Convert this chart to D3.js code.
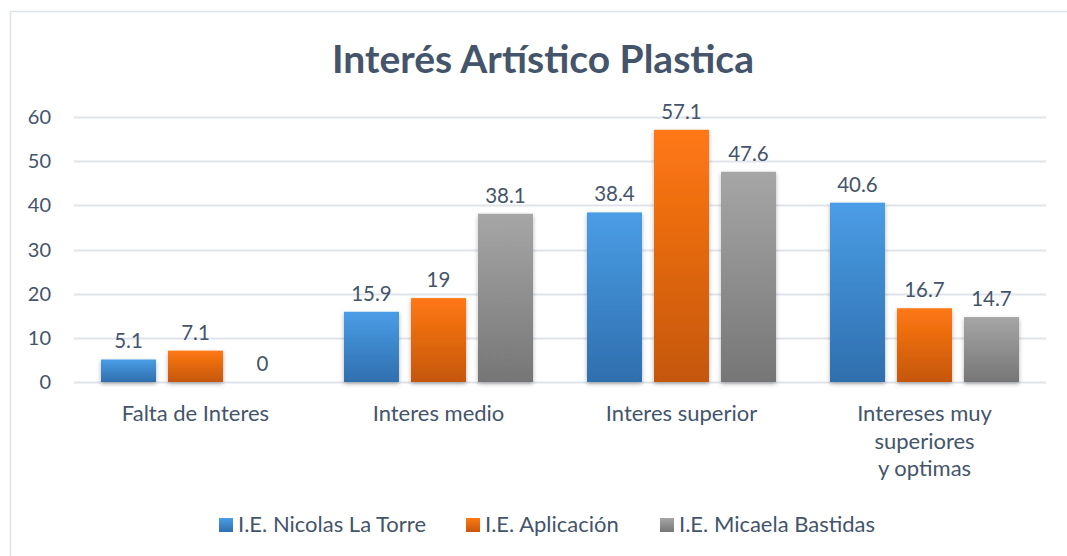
<!DOCTYPE html>
<html>
<head>
<meta charset="utf-8">
<script src="https://cdn.jsdelivr.net/npm/d3@7"></script>
<style>
  body { margin: 0; background: #fff; }
  svg text { font-family: Lato, "Open Sans", sans-serif; }
</style>
</head>
<body>
<div id="chart"></div>
<script>
var width = 1067;
var height = 556;

// data
var categories = ["Falta de Interes", "Interes medio", "Interes superior", "Intereses muy superiores y optimas"];
var catLines = [["Falta de Interes"], ["Interes medio"], ["Interes superior"], ["Intereses muy", "superiores", "y optimas"]];
var series = ["I.E. Nicolas La Torre", "I.E. Aplicación", "I.E. Micaela Bastidas"];
var nicolas = [5.1, 15.9, 38.4, 40.6];
var aplicacion = [7.1, 19, 57.1, 16.7];
var micaela = [0, 38.1, 47.6, 14.7];
var yTicks = [0, 10, 20, 30, 40, 50, 60];

var values = [nicolas, aplicacion, micaela];
var colors = [
  ["#4a9de6", "#2f6fae"],
  ["#ff7813", "#c5570c"],
  ["#a6a6a6", "#767676"]
];
var textColor = "#44546a";

var plotLeft = 74, plotRight = 1046, plotTop = 117, plotBottom = 382;

var svg = d3.select("#chart").append("svg")
  .attr("width", width)
  .attr("height", height);

// frame
svg.append("rect")
  .attr("x", 10.5).attr("y", 11.5)
  .attr("width", 1070).attr("height", 560)
  .attr("fill", "#fff")
  .attr("stroke", "#dfe3ea")
  .attr("stroke-width", 1.5);

var defs = svg.append("defs");
colors.forEach(function(c, i) {
  var g = defs.append("linearGradient")
    .attr("id", "grad" + i)
    .attr("x1", 0).attr("y1", 0).attr("x2", 0).attr("y2", 1);
  g.append("stop").attr("offset", "0%").attr("stop-color", c[0]);
  g.append("stop").attr("offset", "100%").attr("stop-color", c[1]);
});
var f = defs.append("filter").attr("id", "shadow")
  .attr("x", "-20%").attr("y", "-20%").attr("width", "140%").attr("height", "140%");
f.append("feDropShadow")
  .attr("dx", 0).attr("dy", 2).attr("stdDeviation", 2)
  .attr("flood-color", "#000").attr("flood-opacity", 0.3);

// scales
var x0 = d3.scaleBand().domain(categories).range([plotLeft, plotRight]);
var x1 = d3.scaleBand().domain(series)
  .range([27, x0.bandwidth() - 27])
  .paddingInner(0.179);
var y = d3.scaleLinear().domain([0, 60]).range([plotBottom, plotTop]);

// title
svg.append("text")
  .attr("x", 543).attr("y", 73)
  .attr("text-anchor", "middle")
  .attr("font-size", 39)
  .attr("font-weight", "bold")
  .attr("fill", textColor)
  .text("Interés Artístico Plastica");

// grid + y labels
svg.append("g").selectAll("line")
  .data(yTicks)
  .enter().append("line")
  .attr("x1", plotLeft).attr("x2", plotRight)
  .attr("y1", function(d) { return Math.round(y(d)) + 0.5; })
  .attr("y2", function(d) { return Math.round(y(d)) + 0.5; })
  .attr("stroke", "#dfe3ea")
  .attr("stroke-width", 2);

svg.append("g").selectAll("text")
  .data(yTicks)
  .enter().append("text")
  .attr("x", 51)
  .attr("y", function(d) { return y(d) + 7; })
  .attr("text-anchor", "end")
  .attr("font-size", 20)
  .attr("fill", textColor)
  .text(function(d) { return d; });

// bars
var groups = svg.append("g").selectAll("g")
  .data(categories)
  .enter().append("g")
  .attr("transform", function(d) { return "translate(" + x0(d) + ",0)"; });

series.forEach(function(s, si) {
  groups.append("rect")
    .attr("x", x1(s))
    .attr("width", x1.bandwidth())
    .attr("y", function(d, ci) { return y(values[si][ci]); })
    .attr("height", function(d, ci) { return plotBottom - y(values[si][ci]); })
    .attr("fill", "url(#grad" + si + ")")
    .attr("filter", "url(#shadow)")
    .style("display", function(d, ci) { return values[si][ci] > 0 ? null : "none"; });

  groups.append("text")
    .attr("x", x1(s) + x1.bandwidth() / 2)
    .attr("y", function(d, ci) { return y(values[si][ci]) - 11; })
    .attr("text-anchor", "middle")
    .attr("font-size", 20.5)
    .attr("fill", textColor)
    .text(function(d, ci) { return values[si][ci]; });
});

// category labels
groups.each(function(d, i) {
  var t = d3.select(this).append("text")
    .attr("text-anchor", "middle")
    .attr("font-size", 22)
    .attr("fill", textColor);
  catLines[i].forEach(function(line, li) {
    t.append("tspan")
      .attr("x", x0.bandwidth() / 2)
      .attr("y", 421 + li * 27.5)
      .text(line);
  });
});

// legend
var legendX = [219, 466, 660];
var legend = svg.append("g").selectAll("g")
  .data(series)
  .enter().append("g")
  .attr("transform", function(d, i) { return "translate(" + legendX[i] + ",518)"; });
legend.append("rect")
  .attr("width", 14).attr("height", 14)
  .attr("fill", function(d, i) { return "url(#grad" + i + ")"; });
legend.append("text")
  .attr("x", 19).attr("y", 14)
  .attr("font-size", 22)
  .attr("fill", textColor)
  .text(function(d) { return d; });
</script>
</body>
</html>
